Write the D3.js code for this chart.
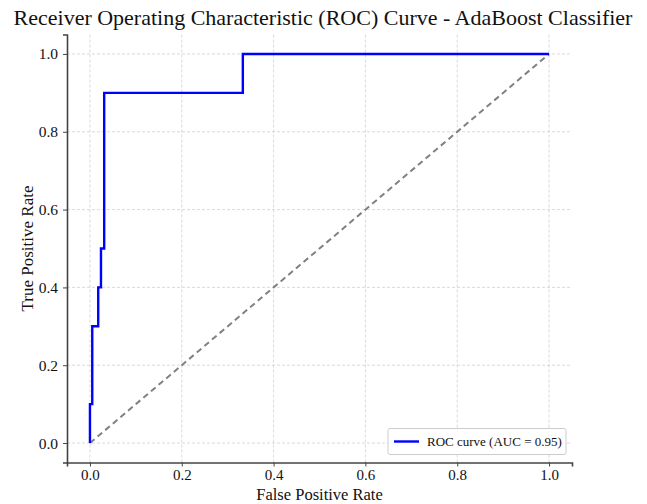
<!DOCTYPE html>
<html>
<head>
<meta charset="utf-8">
<script src="https://cdn.jsdelivr.net/npm/d3@7"></script>
<style>
	body { margin: 0; background: #fff; }
	svg text { font-family: "Liberation Serif", "DejaVu Serif", serif; fill: #111; }
	.grid line { stroke: #d0d0d0; stroke-dasharray: 3,2; stroke-width: 0.8; }
	.axis path, .axis line { stroke: #444; }
</style>
</head>
<body>
<svg id="roc" width="647" height="504"></svg>
<script>
// ROC points
var fpr = [0, 0, 0.005, 0.005, 0.018, 0.018, 0.024, 0.024, 0.031, 0.031, 0.333, 0.333, 1.0];
var tpr = [0, 0.1, 0.1, 0.3, 0.3, 0.4, 0.4, 0.5, 0.5, 0.9, 0.9, 1.0, 1.0];
var ticks = [0, 0.2, 0.4, 0.6, 0.8, 1.0];
var aucLabel = "ROC curve (AUC = 0.95)";

var svg = d3.select('#roc'),
	margin = {top: 34.5, right: 75, bottom: 41.5, left: 67},
	width = +svg.attr("width") - margin.left - margin.right,
	height = +svg.attr("height") - margin.top - margin.bottom;

var chart = svg.append("g")
	.attr("transform", "translate(" + margin.left + "," + margin.top + ")");

var x = d3.scaleLinear().domain([-0.05, 1.05]).range([0, width]);
var y = d3.scaleLinear().domain([-0.05, 1.05]).range([height, 0]);

// grid
chart.append("g").attr("class", "grid")
	.selectAll("line.v").data(ticks).enter().append("line")
	.attr("x1", function(d) { return x(d); }).attr("x2", function(d) { return x(d); })
	.attr("y1", 0).attr("y2", height);
chart.append("g").attr("class", "grid")
	.selectAll("line.h").data(ticks).enter().append("line")
	.attr("y1", function(d) { return y(d); }).attr("y2", function(d) { return y(d); })
	.attr("x1", 0).attr("x2", width);

// diagonal chance line
chart.append("line")
	.attr("x1", x(0)).attr("y1", y(0))
	.attr("x2", x(1)).attr("y2", y(1))
	.attr("stroke", "#808080")
	.attr("stroke-width", 2)
	.attr("stroke-dasharray", "6,4");

var pts = fpr.map(function(d, i) { return [d, tpr[i]]; });
chart.append("path")
	.datum(pts)
	.attr("fill", "none")
	.attr("stroke", "#0000ff")
	.attr("stroke-width", 2.4)
	.attr("d", d3.line().x(function(d) { return x(d[0]); }).y(function(d) { return y(d[1]); }));

var fmt = d3.format(".1f");
chart.append("g").attr("class", "axis")
	.attr("transform", "translate(0," + height + ")")
	.call(d3.axisBottom(x).tickValues(ticks).tickFormat(fmt).tickSizeOuter(0).tickSize(4).tickPadding(3))
	.call(function(g) { g.select(".domain").attr("stroke-width", 1.6); })
	.selectAll("text").attr("font-size", 15).style("font-family", "Liberation Serif");

chart.append("g").attr("class", "axis")
	.call(d3.axisLeft(y).tickValues(ticks).tickFormat(fmt).tickSizeOuter(0).tickSize(4).tickPadding(5))
	.call(function(g) { g.select(".domain").attr("stroke-width", 1.6); })
	.selectAll("text").attr("font-size", 15.5).style("font-family", "Liberation Serif");

// titles
svg.append("text")
	.attr("x", 323).attr("y", 25)
	.attr("text-anchor", "middle")
	.attr("font-size", 22)
	.text("Receiver Operating Characteristic (ROC) Curve - AdaBoost Classifier");

svg.append("text")
	.attr("x", margin.left + x(0.5)).attr("y", 500)
	.attr("text-anchor", "middle")
	.attr("font-size", 16.5)
	.text("False Positive Rate");

svg.append("text")
	.attr("transform", "translate(33," + (margin.top + y(0.5)) + ") rotate(-90)")
	.attr("text-anchor", "middle")
	.attr("font-size", 17)
	.text("True Positive Rate");

// legend
var legend = chart.append("g")
	.attr("transform", "translate(" + (width - 184) + "," + (height - 34) + ")");
legend.append("rect")
	.attr("width", 178).attr("height", 26).attr("rx", 2)
	.attr("fill", "#fff").attr("fill-opacity", 0.85)
	.attr("stroke", "#ccc");
legend.append("line")
	.attr("x1", 6).attr("x2", 31).attr("y1", 13).attr("y2", 13)
	.attr("stroke", "#0000ff").attr("stroke-width", 2.4);
legend.append("text")
	.attr("x", 39).attr("y", 17.5)
	.attr("font-size", 13)
	.text(aucLabel);
</script>
</body>
</html>
